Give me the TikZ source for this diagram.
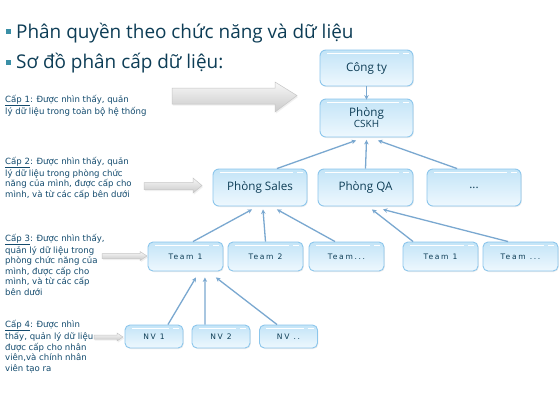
\documentclass[tikz,border=0pt]{standalone}
\usepackage{fontspec}
\setmainfont{DejaVu Sans}
\newfontfamily\titlefont{Open Sans}
\newfontfamily\boxfont{Open Sans}
\newfontfamily\teamfont[LetterSpace=22]{DejaVu Sans}
\usetikzlibrary{arrows.meta,shadows}
\definecolor{titlec}{HTML}{0D3D56}
\definecolor{bulletc}{HTML}{3A8FA6}
\definecolor{notec}{HTML}{134B6E}
\definecolor{boxedge}{HTML}{8CC6EC}
\definecolor{boxtop}{HTML}{C3E4F7}
\definecolor{boxbot}{HTML}{EEF8FE}
\definecolor{conc}{HTML}{7AA8D0}
\definecolor{boxtext}{HTML}{0D3D56}
\tikzset{
  bx/.style={rounded corners=6pt, draw=boxedge, line width=0.9pt,
    top color=boxtop, bottom color=boxbot, text=boxtext, inner sep=0pt,
    drop shadow={opacity=0.15, shadow xshift=0.8pt, shadow yshift=-1pt},
    path picture={
      \draw[white, line width=1.3pt]
        ([xshift=7pt,yshift=-3.5pt]path picture bounding box.north west) --
        ([xshift=-14pt,yshift=-3.5pt]path picture bounding box.north east);
      \draw[white, line width=1.3pt]
        ([xshift=-10pt,yshift=-3.5pt]path picture bounding box.north east) --
        ([xshift=-4pt,yshift=-3.5pt]path picture bounding box.north east);
    }},
  big/.style={bx, minimum width=94bp, minimum height=37bp, font=\boxfont\fontsize{11.7}{13}\selectfont},
  team/.style={bx, rounded corners=5pt, minimum width=75bp, minimum height=29bp, font=\teamfont\fontsize{7.6}{8}\selectfont},
  nv/.style={bx, rounded corners=5pt, minimum width=58bp, minimum height=23bp, font=\teamfont\fontsize{7.6}{8}\selectfont},
  con/.style={draw=conc, line width=1.3pt, -{Stealth[length=4.5pt,width=4.5pt]}},
  garrow/.style={top color=gray!6, bottom color=gray!42, draw=gray!45, line width=0.5pt,
    drop shadow={opacity=0.12, shadow xshift=1pt, shadow yshift=-1.5pt}},
  note/.style={anchor=north west, align=left, inner sep=0pt, text=notec,
    font=\fontsize{8.6}{10.6}\selectfont},
  ttl/.style={anchor=base west, inner sep=0pt, text=titlec, font=\titlefont\fontsize{19}{22}\selectfont},
}
\begin{document}
\begin{tikzpicture}[x=1bp,y=-1bp]
\useasboundingbox (0,0) rectangle (560,400);
\fill[white] (0,0) rectangle (560,400);
% title
\fill[bulletc] (6,29) rectangle (10.5,33.5);
\node[ttl] (t1) at (16,38) {Phân quyền theo chức năng và dữ liệu};
\fill[bulletc] (6,60) rectangle (10.5,64.5);
\node[ttl] (t2) at (16,68) {Sơ đồ phân cấp dữ liệu:};
% notes
\node[note] (n1) at (5,95) {\underline{Cấp 1}: Được nhìn thấy, quản\\lý dữ liệu trong toàn bộ hệ thống};
\node[note] (n2) at (5,157) {\underline{Cấp 2}: Được nhìn thấy, quản\\lý dữ liệu trong phòng chức\\năng của mình, được cấp cho\\mình, và từ các cấp bên dưới};
\node[note] (n3) at (5,234) {\underline{Cấp 3}: Được nhìn thấy,\\quản lý dữ liệu trong\\phòng chức năng của\\mình, được cấp cho\\mình, và từ các cấp\\bên dưới};
\node[note] (n4) at (5,320) {\underline{Cấp 4}: Được nhìn\\thấy, quản lý dữ liệu\\được cấp cho nhân\\viên,và chính nhân\\viên tạo ra};
% gray arrows
\path[garrow] (172,88) -- (275,88) -- (275,82) -- (297,95.5) -- (275,112) -- (275,104) -- (172,104) -- cycle;
\path[garrow] (144,182.5) -- (193,182.5) -- (193,178) -- (202,185.5) -- (193,193) -- (193,189.5) -- (144,189.5) -- cycle;
\path[garrow] (102,253.5) -- (140,253.5) -- (140,251.5) -- (147,256) -- (140,260.5) -- (140,258.5) -- (102,258.5) -- cycle;
\path[garrow] (94,335) -- (117,335) -- (117,333) -- (123,337) -- (117,341) -- (117,339) -- (94,339) -- cycle;
% boxes
\node[big, minimum width=93bp, minimum height=36bp] (cty) at (366.5,68) {Công ty};
\node[big, minimum width=93bp, minimum height=38bp, align=center] (cskh) at (366.5,118) {Phòng\\[-2pt]{\fontsize{10}{11}\selectfont CSKH}};
\node[big] (sales) at (260,187.5) {Phòng Sales};
\node[big, minimum width=95bp] (qa) at (365.5,187.5) {Phòng QA};
\node[big] (dots) at (474,187.5) {...};
\node[team] (ta) at (185.5,256.5) {Team 1};
\node[team] (tb) at (265.5,256.5) {Team 2};
\node[team] (tc) at (346.5,256.5) {Team...};
\node[team] (qa1) at (440.5,256.5) {Team 1};
\node[team] (qa2) at (520.5,256.5) {Team ...};
\node[nv] (nv1) at (154,336.5) {NV 1};
\node[nv] (nv2) at (221,336.5) {NV 2};
\node[nv] (nv3) at (288.5,336.5) {NV ..};
% connectors
\draw[con] (cty.south) -- ([yshift=-1pt]cskh.north);
\draw[con] ([xshift=17pt]sales.north) -- ([xshift=-10.5pt,yshift=-3pt]cskh.south);
\draw[con] (qa.north) -- ([yshift=-2.5pt]cskh.south);
\draw[con] ([xshift=-17pt]dots.north) -- ([xshift=11.5pt,yshift=-3pt]cskh.south);
\draw[con] ([xshift=7.5pt]ta.north) -- ([xshift=-8pt,yshift=-3pt]sales.south);
\draw[con] (tb.north) -- ([xshift=3pt,yshift=-3pt]sales.south);
\draw[con] ([xshift=-11.5pt]tc.north) -- ([xshift=17pt,yshift=-3pt]sales.south);
\draw[con] ([xshift=-27.5pt]qa1.north) -- ([xshift=6.5pt,yshift=-3pt]qa.south);
\draw[con] ([xshift=-12.5pt]qa2.north) -- ([xshift=17.5pt,yshift=-3pt]qa.south);
\draw[con] ([xshift=14pt]nv1.north) -- ([xshift=10.5pt,yshift=-6pt]ta.south);
\draw[con] ([xshift=-16pt]nv2.north) -- ([xshift=19.5pt,yshift=-6pt]ta.south);
\draw[con] ([xshift=-11.5pt]nv3.north) -- ([xshift=30.5pt,yshift=-6pt]ta.south);
\end{tikzpicture}
\end{document}
